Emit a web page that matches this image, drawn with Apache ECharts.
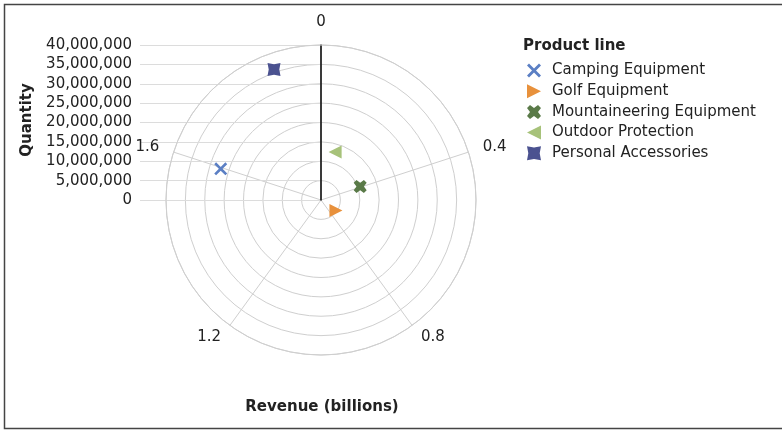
<!DOCTYPE html>
<html><head><meta charset="utf-8">
<script src="https://cdn.jsdelivr.net/npm/echarts@6/dist/echarts.min.js"></script>
<style>html,body{margin:0;padding:0;background:#fff}#c{width:782px;height:430px}</style>
</head><body><div id="c"></div>
<script>
const productLines = ['Camping Equipment', 'Golf Equipment', 'Mountaineering Equipment', 'Outdoor Protection', 'Personal Accessories'];
const revenue = [1.596, 0.694, 0.394, 0.091, 1.890];
const quantity = [27100000, 4700000, 10700000, 12900000, 35800000];
const revenueTicks = [0, 0.4, 0.8, 1.2, 1.6, 2.0];
const quantityTicks = [0, 5000000, 10000000, 15000000, 20000000, 25000000, 30000000, 35000000, 40000000];
const colors = ['#5b7fc4', '#e8913c', '#5a7a48', '#a7c27a', '#4b5290'];
const symbols = [
  'path://M2,0 L7,5 L12,0 L14,2 L9,7 L14,12 L12,14 L7,9 L2,14 L0,12 L5,7 L0,2 Z',
  'path://M0,0 L14,7 L0,14 Z',
  'path://M3,0 L7,3 L11,0 L14,3 L11,7 L14,11 L11,14 L7,11 L3,14 L0,11 L3,7 L0,3 Z',
  'path://M14,0 L0,7 L14,14 Z',
  'path://M0,0 L7,1.3 L14,0 L12.7,7 L14,14 L7,12.7 L0,14 L1.3,7 Z'
];
const FONT = 'DejaVu Sans';
const cx = 321, cy = 200, R = 155;
const qMax = quantityTicks[quantityTicks.length - 1];
const rMax = revenueTicks[revenueTicks.length - 1];
const chart = echarts.init(document.getElementById('c'), null, {renderer: 'canvas'});
const fmt = v => Number(v).toLocaleString('en-US');
chart.setOption({
  animation: false,
  backgroundColor: '#fff',
  textStyle: {fontFamily: FONT},
  grid: {left: 140, top: cy - R, width: cx - 140, height: R},
  xAxis: {type: 'value', show: false, min: 0, max: 1},
  yAxis: {
    type: 'value', min: quantityTicks[0], max: qMax,
    interval: quantityTicks[1] - quantityTicks[0],
    axisLine: {show: false}, axisTick: {show: false},
    axisLabel: {formatter: fmt, fontSize: 15, color: '#222', margin: 8, fontFamily: FONT},
    splitLine: {lineStyle: {color: '#dcdcdc', width: 1}}
  },
  polar: {center: [cx, cy], radius: R},
  angleAxis: {
    type: 'value', min: revenueTicks[0], max: rMax,
    interval: revenueTicks[1] - revenueTicks[0],
    startAngle: 90, clockwise: true,
    axisLine: {lineStyle: {color: '#cfcfcf'}},
    axisTick: {show: false},
    axisLabel: {show: false},
    splitLine: {lineStyle: {color: '#cfcfcf'}}
  },
  radiusAxis: {
    type: 'value', min: quantityTicks[0], max: qMax,
    interval: quantityTicks[1] - quantityTicks[0],
    axisLine: {lineStyle: {color: '#000', width: 1.5}},
    axisTick: {show: false}, axisLabel: {show: false},
    splitLine: {lineStyle: {color: '#cfcfcf'}}
  },
  legend: {
    orient: 'vertical', left: 522, top: 58, itemWidth: 14, itemHeight: 14, itemGap: 5.7,
    data: productLines,
    textStyle: {fontSize: 15, color: '#222', fontFamily: FONT, padding: [0, 0, 0, 6]}
  },
  series: productLines.map((name, i) => ({
    name, type: 'scatter', coordinateSystem: 'polar',
    symbol: symbols[i], symbolSize: 13,
    itemStyle: {color: colors[i], opacity: 1},
    data: [[quantity[i], revenue[i]]]
  }))
});

// angle-axis tick labels, positioned through the polar coordinate system
const labelRadiusValue = qMax * 170 / R;
const angleLabels = revenueTicks.slice(0, -1).map(v => {
  const p = chart.convertToPixel({polarIndex: 0}, [labelRadiusValue, v]);
  const dx = p[0] - cx, dy = p[1] - cy;
  const align = Math.abs(dx) < 20 ? 'center' : (dx > 0 ? 'left' : 'right');
  const va = Math.abs(dx) < 20 ? (dy < 0 ? 'bottom' : 'top') : 'middle';
  return {type: 'text', x: p[0], y: p[1], silent: true,
    style: {text: String(v), font: '15px "DejaVu Sans"', fill: '#222', align, verticalAlign: va}};
});
chart.setOption({
  graphic: [
    {type: 'polyline', shape: {points: [[782, 4.5], [4.5, 4.5], [4.5, 428.5], [782, 428.5]]},
      style: {stroke: '#444', lineWidth: 1.5, fill: null}, silent: true},
    {type: 'text', left: 523, top: 39, style: {text: 'Product line', font: 'bold 15px "DejaVu Sans"', fill: '#222'}},
    {type: 'text', x: 27, y: 120, rotation: Math.PI / 2,
      style: {text: 'Quantity', font: 'bold 15px "DejaVu Sans"', fill: '#222', align: 'center', verticalAlign: 'middle'}},
    {type: 'text', x: 322, y: 407,
      style: {text: 'Revenue (billions)', font: 'bold 15px "DejaVu Sans"', fill: '#222', align: 'center', verticalAlign: 'middle'}}
  ].concat(angleLabels)
});
</script></body></html>
